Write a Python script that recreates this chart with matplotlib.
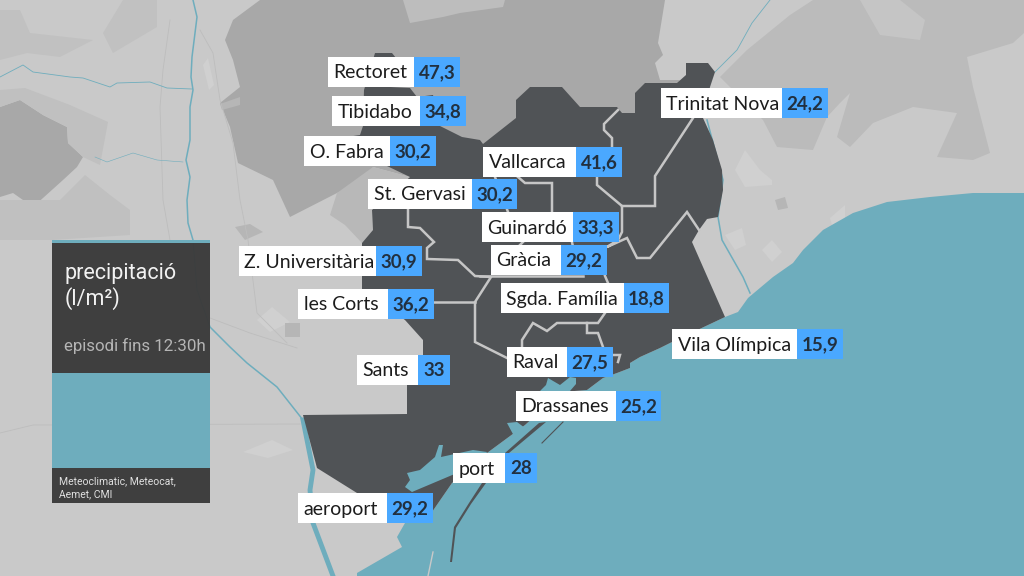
import matplotlib
matplotlib.use("Agg")
import matplotlib.pyplot as plt
from matplotlib.patches import Polygon, Rectangle

# rain per zone (l/m2)
zones = ["Rectoret", "Tibidabo", "O. Fabra", "St. Gervasi", "Z. Universitària", "Vallcarca",
         "Guinardó", "Gràcia", "Sgda. Família", "Trinitat Nova", "les Corts", "Sants",
         "Raval", "Drassanes", "port", "aeroport", "Vila Olímpica"]
rain = [47.3, 34.8, 30.2, 30.2, 30.9, 41.6, 33.3, 29.2, 18.8, 24.2, 36.2, 33, 27.5, 25.2, 28, 29.2, 15.9]

# label boxes in image pixels: left edge, white/blue split, right edge, top
box_left = [328, 332, 304, 368, 239, 483, 482, 491, 501, 661, 298, 357, 507, 516, 453, 298, 672]
box_split = [414, 420, 390, 472, 376, 576, 573, 561, 624, 782, 388, 418, 567, 616, 505, 387, 797]
box_right = [460, 466, 436, 517, 422, 622, 619, 607, 669, 828, 434, 450, 613, 661, 537, 433, 843]
box_top = [57, 96, 136, 179, 246, 147, 212, 245, 283, 88, 289, 355, 347, 391, 453, 493, 329]
box_h = 30

LAND = "#c9c9c9"
HILL = "#a8a8a8"
SEA = "#6eadbd"
CITY = "#505356"
PANEL = "#3b3b3b"
BLUE = "#4aa8ff"
INK = "#1c1c1c"

city = [(375, 53), (392, 53), (396, 58), (390, 87), (410, 88), (417, 97), (433, 95), (440, 126),
        (462, 137), (480, 140), (483, 144), (516, 118), (516, 100), (530, 87), (562, 87), (580, 107),
        (617, 107), (622, 113), (635, 113), (635, 93), (645, 83), (677, 83), (686, 75), (686, 63),
        (708, 63), (715, 72), (710, 87), (703, 118), (713, 140), (722, 170), (723, 190), (718, 217),
        (707, 219), (699, 230), (692, 242), (725, 317), (672, 342), (660, 348), (640, 357), (630, 363),
        (630, 368), (617, 373), (603, 378), (587, 390), (562, 392), (525, 425), (487, 453), (452, 483),
        (432, 512), (405, 523), (357, 493), (317, 468), (303, 415), (407, 414), (407, 385), (423, 357),
        (423, 340), (405, 320), (362, 290), (362, 243), (373, 230), (372, 210), (410, 177), (387, 166),
        (375, 150), (345, 166), (327, 166), (327, 140), (360, 135), (363, 126), (364, 90)]

port_strip = [(539, 423), (546, 422), (509, 453), (486, 483), (471, 504), (456, 528), (452, 562), (450, 562),
              (454, 527), (469, 503), (482, 483), (505, 453)]

sea = [(1024, 193), (973, 193), (930, 197), (887, 202), (853, 213), (823, 230), (803, 250), (793, 263),
       (773, 277), (748, 298), (738, 312), (725, 317), (672, 342), (660, 348), (640, 357), (630, 363),
       (630, 368), (617, 373), (603, 378), (587, 390), (562, 392), (525, 425), (487, 453), (452, 483),
       (432, 512), (405, 523), (397, 537), (402, 547), (357, 573), (357, 576), (1024, 576)]

harbour = [
    [(407, 473), (420, 470), (435, 457), (439, 445), (443, 445), (441, 457), (473, 450), (487, 452),
     (480, 467), (457, 473), (412, 492), (405, 487), (410, 480)],
    [(507, 423), (517, 422), (525, 428), (514, 436)],
    [(548, 378), (560, 385), (570, 377), (576, 378), (576, 384), (570, 391), (540, 391), (546, 385)],
]

west_hill = [(233, 20), (260, 0), (665, 0), (658, 43), (663, 55), (655, 63), (660, 80), (680, 80), (640, 150),
             (410, 177), (373, 167), (367, 180), (337, 193), (290, 217), (273, 180), (238, 163), (230, 127),
             (220, 103), (240, 87), (233, 60), (225, 40)]
far_west_hill = [(0, 107), (20, 100), (43, 115), (67, 127), (68, 143), (83, 157), (77, 167), (63, 180),
                 (33, 207), (13, 193), (0, 197)]
east_hill = [(813, 0), (790, 15), (747, 50), (720, 77), (763, 120), (777, 147), (813, 150), (827, 117), (840, 103),
             (850, 93), (837, 137), (850, 147), (873, 123), (913, 107), (957, 113), (937, 157), (973, 160),
             (990, 153), (973, 87), (967, 57), (1013, 43), (1024, 33), (1024, 0)]

pale_hills = [
    [(0, 10), (20, 10), (30, 33), (93, 40), (60, 57), (27, 53), (0, 60)],
    [(103, 33), (123, 0), (157, 0), (157, 27), (113, 53)],
    [(0, 90), (25, 88), (70, 105), (108, 122), (100, 165), (83, 157), (68, 143), (67, 127), (43, 115), (20, 100), (0, 107)],
    [(60, 200), (85, 175), (110, 195), (130, 210), (130, 235), (52, 240), (0, 240), (0, 200)],
    [(403, 0), (505, 0), (503, 7), (460, 13), (443, 17), (410, 23)],
    [(337, 193), (373, 167), (410, 177), (372, 210), (373, 230), (362, 243), (345, 225), (330, 215)],
    [(860, 0), (900, 0), (925, 20), (920, 40), (880, 35)],
]
pale_colors = ["#c1c1c1", "#c1c1c1", "#c0c0c0", "#c0c0c0", "#bdbdbd", "#b8b8b8", "#c5c5c5"]

urban = [
    [(735, 170), (745, 150), (760, 170), (772, 180), (772, 185), (745, 187)],
    [(725, 235), (742, 228), (746, 245), (735, 250)],
    [(762, 250), (772, 240), (782, 252), (772, 262)],
    [(257, 320), (272, 307), (290, 322), (270, 332)],
    [(243, 452), (272, 440), (293, 450), (268, 458)],
    [(203, 65), (208, 58), (214, 85), (209, 90)],
    [(830, 218), (845, 205), (845, 222), (832, 225)],
]
grey_spots = [
    [(235, 227), (250, 224), (263, 232), (245, 240)],
    [(285, 323), (300, 323), (300, 337), (285, 337)],
    [(775, 200), (785, 197), (788, 208), (778, 210)],
    [(220, 104), (240, 97), (240, 105), (222, 110)],
]

# district borders
borders = [
    [(408, 208), (408, 227), (420, 228), (434, 242), (427, 248), (427, 259), (458, 260), (475, 276),
     (491, 277), (475, 302), (475, 342), (507, 358)],
    [(433, 302), (475, 302)],
    [(495, 177), (508, 212)],
    [(518, 177), (525, 183), (552, 183), (552, 212)],
    [(618, 110), (604, 124), (604, 130), (612, 138), (612, 147)],
    [(597, 177), (597, 185), (622, 206), (622, 232), (618, 240), (607, 247), (627, 238), (637, 258),
     (650, 258), (687, 212), (699, 230)],
    [(622, 206), (655, 206), (655, 176), (693, 118)],
    [(523, 242), (518, 247)],
    [(572, 242), (573, 247)],
    [(480, 276), (583, 276)],
    [(605, 276), (608, 283)],
    [(605, 313), (598, 323), (557, 323), (547, 331), (533, 323), (522, 340), (522, 347)],
    [(587, 323), (587, 333), (598, 333), (603, 347)],
    [(613, 355), (620, 355), (618, 362)],
]

rivers = [
    [(193, 0), (197, 17), (192, 57), (191, 77), (193, 90), (190, 107), (190, 140), (186, 160), (190, 177),
     (187, 200), (188, 223), (193, 240), (197, 290), (210, 327), (230, 347), (247, 363), (277, 387), (303, 420)],
    [(303, 420), (313, 470), (310, 490), (313, 523), (333, 576)],
    [(0, 77), (23, 65), (33, 72), (70, 77), (83, 78), (110, 87), (117, 83), (150, 82), (167, 88), (192, 89)],
    [(95, 157), (107, 162), (133, 153), (157, 160), (183, 162)],
    [(770, 0), (752, 23), (737, 50), (715, 72)],
    [(707, 120), (723, 180), (718, 217), (722, 240), (743, 277), (750, 293)],
]
river_lw = [1.1, 3.5, 0.6, 0.4, 0.6, 1.1]

roads = [
    [(170, 20), (163, 70), (160, 107), (163, 200), (170, 240)],
    [(200, 30), (213, 53), (220, 100), (233, 143), (240, 200), (248, 240), (257, 313), (287, 343)],
    [(210, 318), (250, 333), (297, 348)],
    [(0, 433), (33, 425), (300, 424)],
]

fig = plt.figure(figsize=(10.24, 5.76), dpi=100, facecolor=LAND)
ax = fig.add_axes([0, 0, 1, 1])
ax.set_xlim(0, 1024)
ax.set_ylim(576, 0)
ax.axis("off")

ax.add_patch(Polygon(east_hill, closed=True, fc="#bbbbbb", ec="none", zorder=1))
ax.add_patch(Polygon(west_hill, closed=True, fc=HILL, ec="none", zorder=1))
ax.add_patch(Polygon(far_west_hill, closed=True, fc="#a8a8a8", ec="none", zorder=1))
for pts, col in zip(pale_hills, pale_colors):
    ax.add_patch(Polygon(pts, closed=True, fc=col, ec="none", zorder=1.1))
for pts in urban:
    ax.add_patch(Polygon(pts, closed=True, fc="#d0d0d0", ec="none", zorder=1.2))
for pts in grey_spots:
    ax.add_patch(Polygon(pts, closed=True, fc="#b6b6b6", ec="none", zorder=1.2))
for pts in roads:
    ax.plot(*zip(*pts), color="#bdbdbd", lw=0.6, zorder=1.5)
for pts, lw in zip(rivers, river_lw):
    ax.plot(*zip(*pts), color=SEA, lw=lw, zorder=1.6)

ax.add_patch(Polygon(sea, closed=True, fc=SEA, ec="none", zorder=2))
ax.add_patch(Polygon(city, closed=True, fc=CITY, ec="none", zorder=3))
ax.add_patch(Polygon(port_strip, closed=True, fc=CITY, ec="none", zorder=3))
ax.plot([563, 542], [422, 443], color=CITY, lw=0.8, zorder=3)
ax.plot([433, 428], [552, 576], color=LAND, lw=1, zorder=3)
for pts in harbour:
    ax.add_patch(Polygon(pts, closed=True, fc=SEA, ec="none", zorder=3.5))
for pts in borders:
    ax.plot(*zip(*pts), color="#c6c6c6", lw=1.8, zorder=4, solid_joinstyle="miter")

# legend panel
ax.add_patch(Rectangle((52, 240), 158, 263, fc=PANEL, ec="none", alpha=0.97, zorder=5))
ax.add_patch(Rectangle((52, 240), 158, 2.5, fc=SEA, ec="none", zorder=6))
ax.add_patch(Rectangle((52, 373), 158, 95, fc=SEA, ec="none", zorder=6))
ax.text(65, 273, "precipitació", family="Roboto", fontsize=15.5, color="#f2f2f2", va="center", zorder=7)
ax.text(65, 299, "(l/m²)", family="Roboto", fontsize=15.5, color="#f2f2f2", va="center", zorder=7)
ax.text(64, 346, "episodi fins 12:30h", family="Roboto", fontsize=12.2, color="#b5b5b5", va="center", zorder=7)
ax.text(59, 481, "Meteoclimatic, Meteocat,", family="Roboto", fontsize=7.5, color="#e0e0e0", va="center", zorder=7)
ax.text(59, 494, "Aemet, CMI", family="Roboto", fontsize=7.5, color="#e0e0e0", va="center", zorder=7)

for name, val, x0, xm, x1, top in zip(zones, rain, box_left, box_split, box_right, box_top):
    ax.add_patch(Rectangle((x0, top), xm - x0, box_h, fc="white", ec="none", zorder=8))
    ax.add_patch(Rectangle((xm, top), x1 - xm, box_h, fc=BLUE, ec="none", zorder=8))
    ax.text(x0 + 5.5, top + box_h / 2 + 1, name, family="Lato", fontsize=14, color=INK,
            va="center", ha="left", zorder=9)
    ax.text((xm + x1) / 2, top + box_h / 2 + 1, f"{val:g}".replace(".", ","), family="Lato",
            fontsize=13.5, fontweight="bold", color="#22303f", va="center", ha="center", zorder=9)

fig.savefig("out.png", dpi=100)
